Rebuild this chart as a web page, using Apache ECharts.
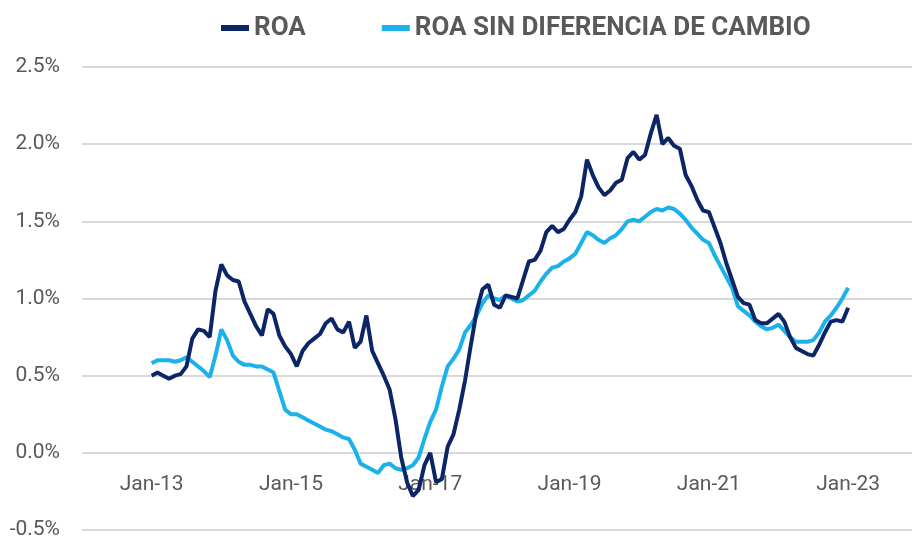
<!DOCTYPE html>
<html>
<head>
<meta charset="utf-8">
<script src="https://cdn.jsdelivr.net/npm/echarts@6/dist/echarts.min.js"></script>
<style>
  html, body { margin: 0; padding: 0; background: #fff; }
  #chart { width: 914px; height: 543px; }
</style>
</head>
<body>
<div id="chart"></div>
<script>
// ========================================
// Datos (% mensual, Jan-13 .. Jan-23)
// ========================================

const seriesNames = ["ROA", "ROA SIN DIFERENCIA DE CAMBIO"];

const roa = [
    0.50, 0.52, 0.50, 0.48, 0.50, 0.51, 0.56, 0.74, 0.80, 0.79, 0.75, 1.05,
    1.22, 1.15, 1.12, 1.11, 0.98, 0.90, 0.82, 0.76, 0.93, 0.90, 0.76, 0.69,
    0.64, 0.56, 0.66, 0.71, 0.74, 0.77, 0.84, 0.87, 0.80, 0.78, 0.85, 0.68,
    0.72, 0.89, 0.66, 0.58, 0.50, 0.41, 0.22, -0.03, -0.19, -0.28, -0.24, -0.08,
    0.00, -0.19, -0.17, 0.04, 0.12, 0.28, 0.47, 0.70, 0.92, 1.06, 1.09, 0.96,
    0.94, 1.02, 1.01, 1.00, 1.12, 1.24, 1.25, 1.31, 1.43, 1.47, 1.43, 1.45,
    1.51, 1.56, 1.66, 1.90, 1.80, 1.72, 1.67, 1.70, 1.75, 1.77, 1.91, 1.95,
    1.90, 1.93, 2.07, 2.19, 2.00, 2.04, 1.99, 1.97, 1.80, 1.73, 1.64, 1.57,
    1.56, 1.46, 1.36, 1.23, 1.12, 1.01, 0.97, 0.96, 0.86, 0.84, 0.84, 0.87,
    0.90, 0.85, 0.75, 0.68, 0.66, 0.64, 0.63, 0.70, 0.78, 0.85, 0.86, 0.85,
    0.94
];

const roaSinDif = [
    0.58, 0.60, 0.60, 0.60, 0.59, 0.60, 0.62, 0.59, 0.56, 0.53, 0.49, 0.63,
    0.80, 0.73, 0.63, 0.59, 0.57, 0.57, 0.56, 0.56, 0.54, 0.52, 0.40, 0.28,
    0.25, 0.25, 0.23, 0.21, 0.19, 0.17, 0.15, 0.14, 0.12, 0.10, 0.09, 0.02,
    -0.07, -0.09, -0.11, -0.13, -0.08, -0.07, -0.10, -0.11, -0.10, -0.08, -0.03, 0.09,
    0.20, 0.28, 0.43, 0.56, 0.61, 0.67, 0.78, 0.83, 0.89, 0.97, 1.02, 1.00,
    0.99, 1.02, 1.00, 0.98, 0.99, 1.02, 1.05, 1.11, 1.16, 1.20, 1.21, 1.24,
    1.26, 1.29, 1.36, 1.43, 1.41, 1.38, 1.36, 1.39, 1.41, 1.45, 1.50, 1.51,
    1.50, 1.53, 1.56, 1.58, 1.57, 1.59, 1.58, 1.55, 1.51, 1.46, 1.42, 1.38,
    1.36, 1.28, 1.21, 1.14, 1.07, 0.95, 0.92, 0.89, 0.85, 0.82, 0.80, 0.81,
    0.83, 0.79, 0.75, 0.72, 0.72, 0.72, 0.73, 0.78, 0.85, 0.89, 0.94, 1.00,
    1.07
];

const xTicks = ["Jan-13", "Jan-15", "Jan-17", "Jan-19", "Jan-21", "Jan-23"];

const colors = ["#0b2566", "#1bb1ea"];

// ========================================
// Eje de fechas: Jan-12 .. Dec-23
// ========================================

const monthNames = ["Jan", "Feb", "Mar", "Apr", "May", "Jun",
    "Jul", "Aug", "Sep", "Oct", "Nov", "Dec"];

let categories = [];
for (let y = 12; y <= 23; y++) {
    monthNames.forEach(m => categories.push(m + "-" + y));
}

const startIndex = categories.indexOf("Jan-13");

function pad(values) {
    let out = categories.map(() => null);
    values.forEach((v, i) => { out[startIndex + i] = v; });
    return out;
}

// ========================================
// Gráfico
// ========================================

const chart = echarts.init(document.getElementById("chart"));

const labelFont = "Roboto, 'Open Sans', sans-serif";

chart.setOption({
    animation: false,
    color: colors,
    legend: {
        top: 10,
        left: 216,
        itemGap: 76,
        itemWidth: 28,
        itemHeight: 6,
        icon: "rect",
        textStyle: {
            color: "#595959",
            fontFamily: labelFont,
            fontWeight: "bold",
            fontSize: 26
        },
        data: seriesNames
    },
    grid: {
        left: 82,
        right: 2,
        top: 67,
        bottom: 13,
        containLabel: false,
        outerBoundsMode: "none"
    },
    xAxis: {
        type: "category",
        data: categories,
        boundaryGap: false,
        // etiquetas bajo la línea del 0%
        offset: -77,
        axisLine: { show: false, onZero: false },
        axisTick: { show: false },
        splitLine: { show: false },
        axisLabel: {
            interval: (i, v) => xTicks.includes(v),
            margin: 21,
            color: "#595959",
            fontFamily: labelFont,
            fontSize: 21
        }
    },
    yAxis: {
        type: "value",
        min: -0.5,
        max: 2.5,
        interval: 0.5,
        axisLine: { show: false },
        axisTick: { show: false },
        splitLine: {
            lineStyle: { color: "#d9d9d9", width: 2 }
        },
        axisLabel: {
            margin: 22,
            color: "#595959",
            fontFamily: labelFont,
            fontSize: 21,
            formatter: v => v.toFixed(1) + "%"
        }
    },
    series: [
        {
            name: seriesNames[0],
            type: "line",
            data: pad(roa),
            showSymbol: false,
            lineStyle: { width: 4, color: colors[0] },
            z: 3
        },
        {
            name: seriesNames[1],
            type: "line",
            data: pad(roaSinDif),
            showSymbol: false,
            lineStyle: { width: 4, color: colors[1] },
            z: 2
        }
    ]
});
</script>
</body>
</html>
